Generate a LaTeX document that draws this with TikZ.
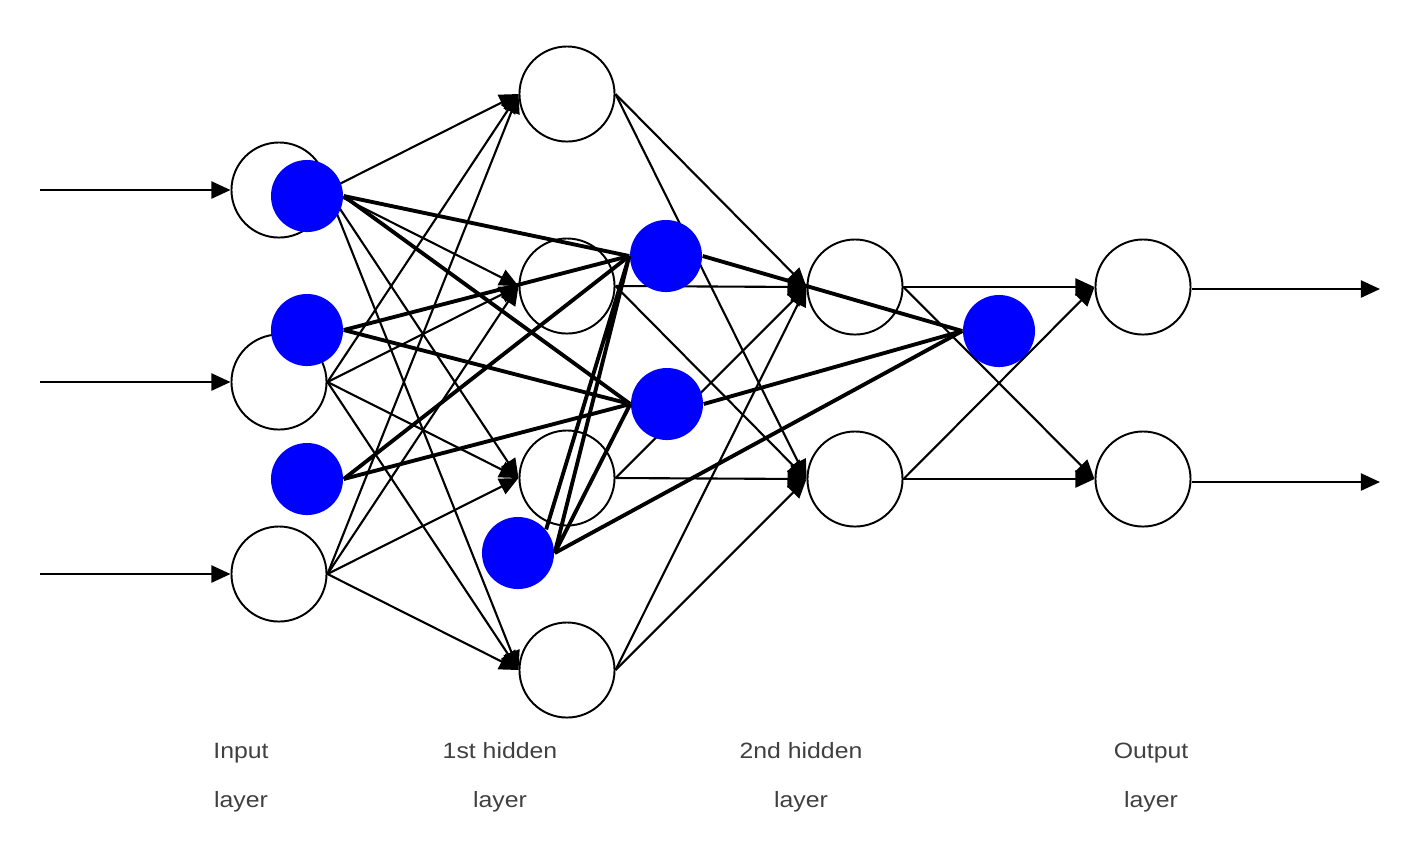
\documentclass[tikz,border=0pt]{standalone}
\usepackage{fontspec}
\setmainfont{Liberation Sans}[FakeStretch=1.12]
\usetikzlibrary{arrows.meta}
\tikzset{
  unit/.style={circle,draw,line width=0.55pt,minimum size=0.95cm,inner sep=0pt},
  drop/.style={circle,fill=blue,minimum size=0.72cm,inner sep=0pt},
  link/.style={line width=0.6pt,-{Triangle[length=0.19cm,width=0.17cm]}},
  heavy/.style={line width=1.1pt},
  lab/.style={anchor=base,text=black!75,font=\fontsize{6.3}{7}\selectfont}
}

\begin{document}
\begin{tikzpicture}[x=0.01cm,y=-0.01cm]
    \useasboundingbox (0,0) rectangle (1411,850);
    \foreach \n/\y in {1/190,2/382,3/574} \node[unit] (i\n) at (279,\y) {};
    \foreach \n/\y in {1/94,2/286,3/478,4/670} \node[unit] (h\n) at (567,\y) {};
    \foreach \n/\y in {1/287,2/479} {\node[unit] (s\n) at (855,\y) {}; \node[unit] (o\n) at (1143,\y) {};}
    \foreach \n/\y in {1/190,2/382,3/574} {\coordinate (x\n) at (40,\y); \draw[link] (x\n) -- (i\n.west);}
    \foreach \n/\y in {1/289,2/482} {\coordinate (y\n) at (1380,\y); \draw[link] (o\n.east |- y\n) -- (y\n);}
    \foreach \a in {1,2,3} \foreach \b in {1,...,4} \draw[link] (i\a.east) -- (h\b.west);
    \foreach \a in {1,...,4} \foreach \b in {1,2} \draw[link] (h\a.east) -- (s\b.west);
    \foreach \a in {1,2} \foreach \b in {1,2} \draw[link] (s\a.east) -- (o\b.west);
    \foreach \n/\x/\y in {1/307/196,2/307/330,3/307/479,4/666/256,5/667/404,6/518/553,7/999/331}
        \node[drop] (b\n) at (\x,\y) {};
    \foreach \a in {1,2,3} \foreach \b in {4,5} \draw[heavy] (b\a.east) -- (b\b.west);
    \foreach \a in {4,5,6} \draw[heavy] (b\a.east) -- (b7.west);
    \draw[heavy] (b6.east) -- (b4.west) (b6.40) -- (b4.west) (b6.east) -- (b5.west);
    \foreach \x/\t [count=\k] in {241/Input,500/1st hidden,801/2nd hidden,1151/Output} {
        \node[lab] (top\k) at (\x,758) {\t};
        \node[lab] (bot\k) at (\x,807) {layer};}
\end{tikzpicture}
\end{document}
